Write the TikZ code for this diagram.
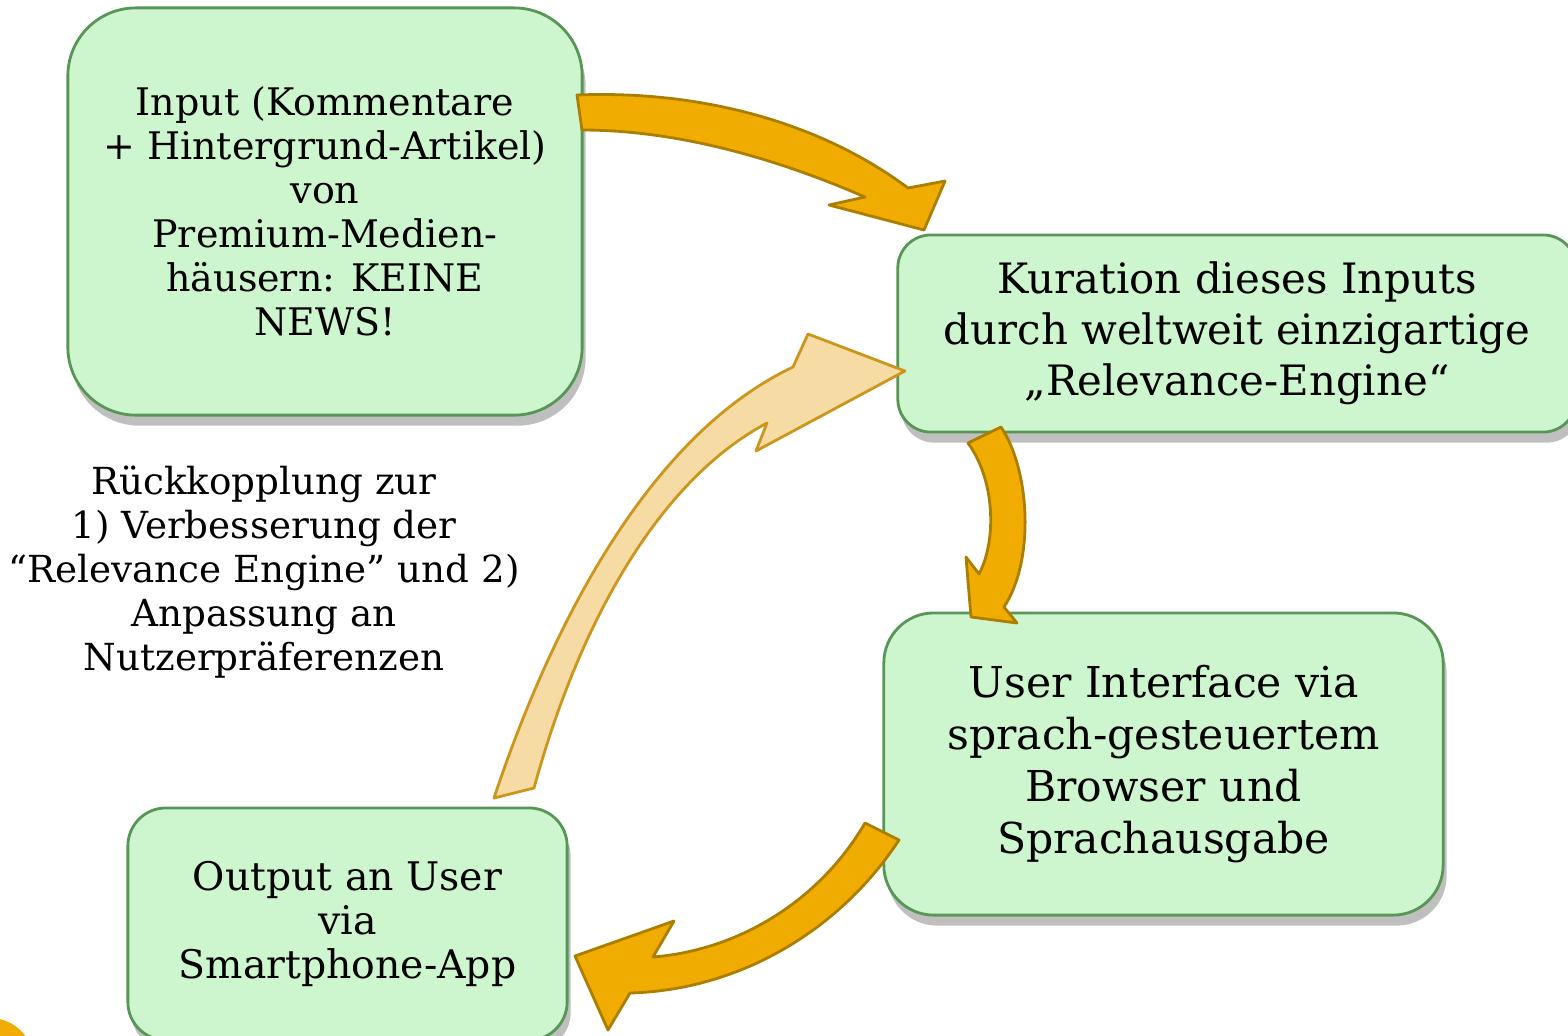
\documentclass[tikz,border=0pt]{standalone}
\usepackage{fontspec}
\setmainfont{DejaVu Serif}
\usetikzlibrary{shadows}
\definecolor{stagefill}{RGB}{206,246,206}
\definecolor{stageline}{RGB}{88,150,88}
\definecolor{flowfill}{RGB}{240,172,0}
\definecolor{flowline}{RGB}{172,126,0}
\definecolor{backfill}{RGB}{246,220,164}
\definecolor{backline}{RGB}{204,150,28}
\tikzset{
  stage/.style={draw=stageline, fill=stagefill, line width=0.8pt, align=center, inner sep=0pt,
    drop shadow={shadow xshift=1pt, shadow yshift=-3pt, opacity=0.5}},
  flow/.style={draw=flowline, fill=flowfill, line width=0.8pt, line join=round},
  back/.style={draw=backline, fill=backfill, line width=0.8pt, line join=round},
}
\begin{document}
\begin{tikzpicture}[x=0.01cm, y=-0.01cm]
            \useasboundingbox (0,0) rectangle (1568,1035);
            \fill[flowfill] (-10,1062) circle (44);
            % the four stages
            \node[stage, minimum width=5.14cm, minimum height=4.07cm, rounded corners=0.68cm,
                font=\fontsize{10.8}{12.5}\selectfont] (input) at (325,211.5)
                {Input (Kommentare\\+ Hintergrund-Artikel)\\von\\Premium-Medien-\\häusern: KEINE\\NEWS!};
            \node[stage, minimum width=6.78cm, minimum height=1.97cm, rounded corners=0.33cm,
                font=\fontsize{11.9}{14.5}\selectfont] (kuration) at (1237,333.5)
                {Kuration dieses Inputs\\durch weltweit einzigartige\\„Relevance-Engine“};
            \node[stage, minimum width=5.59cm, minimum height=3.02cm, rounded corners=0.5cm,
                font=\fontsize{12.1}{14.8}\selectfont] (ui) at (1163.5,764)
                {User Interface via\\sprach-gesteuertem\\Browser und\\Sprachausgabe};
            \node[stage, minimum width=4.39cm, minimum height=2.32cm, rounded corners=0.38cm,
                font=\fontsize{11.2}{12.5}\selectfont] (output) at (347.5,924)
                {Output an User\\via\\Smartphone-App};
            \node[align=center, font=\fontsize{10.6}{12.5}\selectfont] (feedback) at (264,572)
                {Rückkopplung zur\\1) Verbesserung der\\“Relevance Engine” und 2)\\Anpassung an\\Nutzerpräferenzen};
            % block arrows
            \draw[flow] (577,95) .. controls (700,90) and (820,122) .. (908,188)
                -- (945,181) -- (924,230) -- (829,205) -- (865,197)
                .. controls (780,160) and (680,130) .. (582,130) -- cycle;
            \draw[flow] (1001,427) .. controls (1030,470) and (1035,560) .. (1004,607)
                -- (1017,623) -- (971,617) -- (966,557) -- (979,574)
                .. controls (997,540) and (995,480) .. (968,443) -- cycle;
            \draw[flow] (899,840) .. controls (840,930) and (740,990) .. (630,993)
                -- (608,1030) -- (575,956) -- (674,921) -- (653,957)
                .. controls (740,950) and (820,900) .. (865,823) -- cycle;
            \draw[back] (494,798) .. controls (560,600) and (660,430) .. (793,367)
                -- (808,334) -- (905,371) -- (756,451) -- (767,423)
                .. controls (660,480) and (580,620) .. (534,788) -- cycle;
\end{tikzpicture}
\end{document}
